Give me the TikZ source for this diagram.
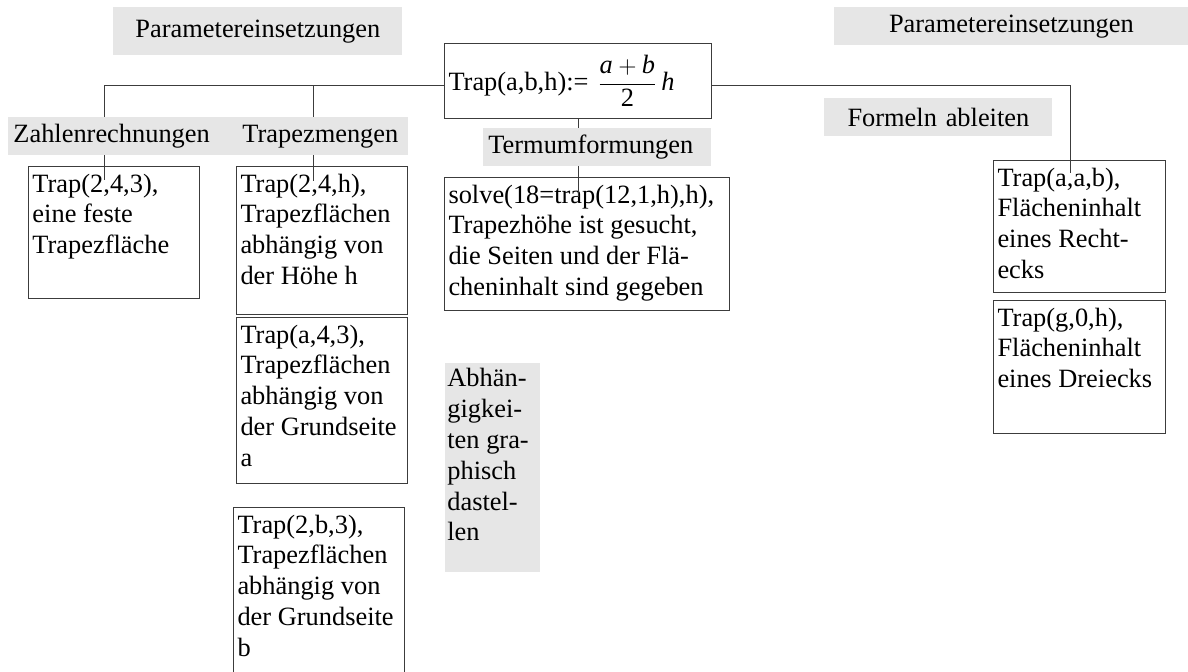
\documentclass[tikz,border=0pt]{standalone}
\usepackage{amsmath}
\usepackage{fontspec}
\setmainfont{Liberation Serif}
\usepackage{tikz}
\usetikzlibrary{positioning}
\definecolor{tagGray}{RGB}{230,230,230}
\definecolor{lineGray}{RGB}{60,60,60}
% top aligned text block of fixed size
\newcommand{\feld}[3]{\parbox[t][#2][t]{#1}{\raggedright\strut #3}}

\begin{document}
\begin{tikzpicture}[x=0.5pt, y=-0.5pt,
  every node/.style={font=\fontsize{13.2}{15.4}\selectfont},
  kasten/.style={draw=lineGray, line width=0.5pt, anchor=north west, inner sep=2pt},
  etikett/.style={fill=tagGray, anchor=north west, inner xsep=2.5pt, inner ysep=0pt, minimum height=19pt},
  verbinder/.style={draw=lineGray, line width=0.5pt}]
\useasboundingbox (0,0) rectangle (1188,672);

% definition of the trapezoid area
\node[kasten, minimum height=37.5pt, text width=129.5pt, inner ysep=0pt, align=left] (formel) at (444,43)
  {Trap(a,b,h):= $\displaystyle\frac{\textit{a}+\textit{b}}{\textrm{2}}\,\textit{h}$};

% example boxes
\node[kasten] (zahl) at (28,166) {\feld{81.5pt}{62pt}{Trap(2,4,3),\\eine feste\\Trapezfläche}};
\node[kasten] (hoehe) at (236,166) {\feld{81.5pt}{70pt}{Trap(2,4,h),\\Trapezflächen\\abhängig von\\der Höhe h}};
\node[kasten] (grundA) at (236,317) {\feld{81.5pt}{79pt}{Trap(a,4,3),\\Trapezflächen\\abhängig von\\der Grundseite\\a}};
\node[kasten] (grundB) at (233,507) {\feld{81.5pt}{96pt}{Trap(2,b,3),\\Trapezflächen\\abhängig von\\der Grundseite\\b}};
\node[kasten] (solve) at (444,177) {\feld{138.5pt}{62.5pt}{solve(18=trap(12,1,h),h),\\Trapezhöhe ist gesucht,\\die Seiten und der Flä-\\cheninhalt sind gegeben}};
\node[kasten] (rechteck) at (993,160) {\feld{82pt}{62pt}{Trap(a,a,b),\\Flächeninhalt\\eines Recht-\\ecks}};
\node[kasten] (dreieck) at (993,300) {\feld{82pt}{62.5pt}{Trap(g,0,h),\\Flächeninhalt\\eines Dreiecks}};

% connectors
\coordinate (knickL) at (104,86);
\coordinate (knickR) at (1070,86);
\coordinate (zahlTop) at (104,180);
\coordinate (mengenTop) at (313,181);
\coordinate (rechtTop) at (1070,173);
\coordinate (solveTop) at (formel.south |- 0,197);
\draw[verbinder] (formel.west |- knickL) -- (knickL) -- (zahlTop);
\draw[verbinder] (mengenTop |- knickL) -- (mengenTop);
\draw[verbinder] (formel.east |- knickR) -- (knickR) -- (rechtTop);
\draw[verbinder] (formel.south) -- (solveTop);

% grey labels on top of the lines
\node[etikett, minimum height=24pt, text width=139.5pt, align=center] (paramL) at (113,7) {Parametereinsetzungen};
\node[etikett, text width=172pt, align=center] (paramR) at (834,7) {Parametereinsetzungen};
\node[etikett, text width=109.5pt, align=left] (zahlen) at (8,117) {Zahlenrechnungen};
\node[etikett, text width=80.5pt, align=left] (mengen) at (237,117) {Trapezmengen};
\node[etikett, text width=109pt, align=left] (termum) at (483,128) {Termumformungen};
\node[etikett, text width=109pt, align=center] (ableiten) at (824,98) {Formeln ableiten};
\node[etikett, inner sep=1pt] (graphisch) at (445,363) {\feld{45.5pt}{102.5pt}{Abhän-\\gigkei-\\ten gra-\\phisch\\dastel-\\len}};
\end{tikzpicture}
\end{document}
